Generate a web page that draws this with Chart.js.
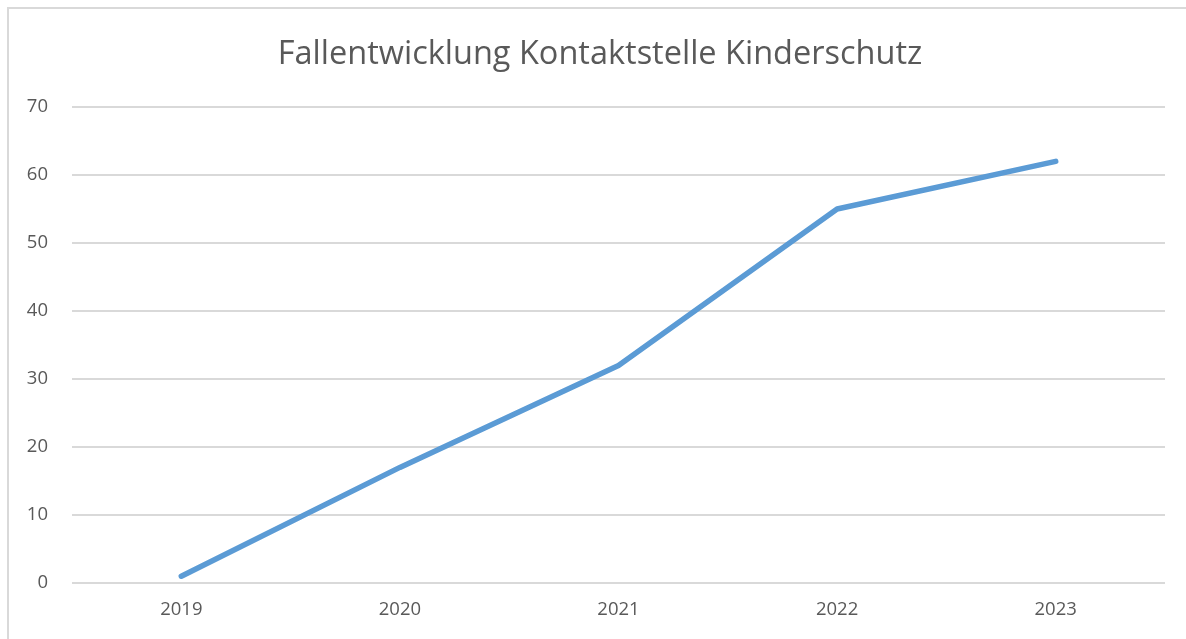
<!DOCTYPE html>
<html>
<head>
<meta charset="utf-8">
<script src="https://cdn.jsdelivr.net/npm/chart.js@4/dist/chart.umd.min.js"></script>
<style>
  html, body { margin: 0; padding: 0; background: #fff; overflow: hidden; }
  #box {
    position: absolute; left: 7px; top: 7px; width: 1179px; height: 632px;
    border-left: 2px solid #d9d9d9; border-top: 2px solid #d9d9d9;
  }
  #wrap { position: absolute; left: 0; top: 0; width: 1177px; height: 630px; }
  #title {
    position: absolute; left: 0; top: 29px; width: 1200px; line-height: 40px;
    text-align: center; color: #595959;
    font: 32.5px "Open Sans", "Liberation Sans", sans-serif;
  }
</style>
</head>
<body>
<div id="box"><div id="wrap"><canvas id="line-chart"></canvas></div></div>
<div id="title">Fallentwicklung Kontaktstelle Kinderschutz</div>
<script>
// Daten
const years = ['2019', '2020', '2021', '2022', '2023'];
const cases = [1, 17, 32, 55, 62];
const yTicks = [0, 10, 20, 30, 40, 50, 60, 70];

const textColor = '#595959';
const gridColor = '#d9d9d9';
const fontFamily = '"Open Sans", "Liberation Sans", sans-serif';

const ctx = document.getElementById('line-chart').getContext('2d');
const lineChart = new Chart(ctx, {
  type: 'line',
  data: {
    labels: years,
    datasets: [{
      label: 'Fälle',
      data: cases,
      borderColor: '#5b9bd5',
      backgroundColor: '#5b9bd5',
      borderWidth: 5.5,
      borderCapStyle: 'round',
      borderJoinStyle: 'round',
      pointRadius: 0,
      tension: 0,
      fill: false
    }]
  },
  options: {
    responsive: true,
    maintainAspectRatio: false,
    animation: false,
    layout: { padding: { left: 0, right: 21, top: 98, bottom: 0 } },
    plugins: {
      legend: { display: false },
      tooltip: { enabled: false },
      title: { display: false }
    },
    scales: {
      x: {
        offset: true,
        grid: { display: false, drawTicks: false },
        border: { display: false },
        ticks: {
          color: textColor,
          font: { family: fontFamily, size: 18.5 },
          padding: 16
        },
        afterFit: (s) => { s.height = 56; }
      },
      y: {
        min: 0,
        max: 70,
        afterBuildTicks: (s) => { s.ticks = yTicks.map(v => ({ value: v })); },
        grid: { color: gridColor, lineWidth: 2, drawTicks: false },
        border: { display: false },
        ticks: {
          color: textColor,
          font: { family: fontFamily, size: 18.5 },
          padding: 24
        },
        afterFit: (s) => { s.width = 63; }
      }
    }
  }
});
</script>
</body>
</html>
